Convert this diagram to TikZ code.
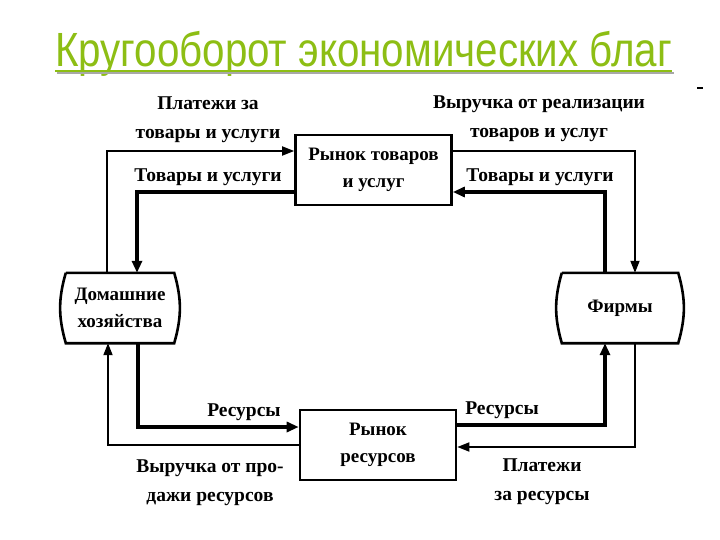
\documentclass[tikz,border=0pt]{standalone}
\usepackage{fontspec}
\usepackage{graphicx}
\setmainfont{Liberation Serif}
\newfontfamily\headfont{Liberation Sans}
\usetikzlibrary{arrows.meta}
\definecolor{TitleGreen}{HTML}{8DBE14}
\definecolor{TitleShade}{HTML}{A8A8A8}

\tikzset{
  market/.style={draw,line width=2.6pt,minimum width=156pt,minimum height=70pt,
    align=center,font=\bfseries\fontsize{19}{27}\selectfont},
  agent/.style={minimum width=108pt,minimum height=70pt,
    align=center,font=\bfseries\fontsize{19}{27}\selectfont},
  flowtxt/.style={align=center,inner sep=0pt,font=\bfseries\fontsize{19.5}{29}\selectfont},
  thinflow/.style={line width=1.8pt,-{Triangle[length=12pt,width=9pt]}},
  thickflow/.style={line width=3.8pt,-{Triangle[length=12pt,width=10pt]}},
  barrel/.style={line width=2.6pt}
}

\begin{document}
\begin{tikzpicture}[x=1pt,y=-1pt]
\fill[white] (0,0) rectangle (720,540);
\useasboundingbox (0,0) rectangle (720,540);
% title with shaded underline
\node[anchor=base west,inner sep=0pt,text=TitleGreen] (title) at (55,67)
  {\headfont\scalebox{0.84}[1]{\fontsize{48}{52}\selectfont Кругооборот экономических благ}};
\draw[TitleShade,line width=2.4pt] ([xshift=2pt,yshift=-6pt]title.base west) -- ([xshift=2pt,yshift=-6pt]title.base east);
\draw[TitleGreen,line width=2.4pt] ([yshift=-4pt]title.base west) -- ([yshift=-4pt]title.base east);
\draw[line width=1.6pt] (697,88) -- (703,88);

% markets and agents
\node[market] (mkt) at (373.5,170) {Рынок товаров\\и услуг};
\node[market] (res) at (378,445) {Рынок\\ресурсов};
\node[agent] (hh) at (120,308) {Домашние\\хозяйства};
\node[agent,minimum width=116pt] (fm) at (620,308) {Фирмы};
\draw[barrel] (hh.north west) -- (hh.north east) to[bend left=16] (hh.south east)
  -- (hh.south west) to[bend left=16] (hh.north west);
\draw[barrel] (fm.north west) -- (fm.north east) to[bend left=16] (fm.south east)
  -- (fm.south west) to[bend left=16] (fm.north west);

% goods market flows
\draw[thinflow] ([xshift=-13pt]hh.north) |- ([yshift=19pt]mkt.west);
\draw[thickflow] ([yshift=-22pt]mkt.west) -| ([xshift=17pt]hh.north);
\draw[thinflow] ([yshift=19pt]mkt.east) -| ([xshift=15pt]fm.north);
\draw[thickflow] ([xshift=-15pt]fm.north) |- ([yshift=-22pt]mkt.east);

% resource market flows
\draw[thickflow] ([xshift=18pt]hh.south) |- ([yshift=18pt]res.west);
\draw[thinflow] (res.west) -| ([xshift=-12pt]hh.south);
\draw[thickflow] ([yshift=20pt]res.east) -| ([xshift=-15pt]fm.south);
\draw[thinflow] ([xshift=15pt]fm.south) |- ([yshift=-2pt]res.east);

% flow labels
\node[flowtxt] (l1) at (208,120) {Платежи за\\товары и услуги};
\node[flowtxt] (l2) at (208,177) {Товары и услуги};
\node[flowtxt] (l3) at (539,119) {Выручка от реализации\\товаров и услуг};
\node[flowtxt] (l4) at (540,177) {Товары и услуги};
\node[flowtxt] (l5) at (244,412) {Ресурсы};
\node[flowtxt] (l6) at (210,483) {Выручка от про-\\дажи ресурсов};
\node[flowtxt] (l7) at (502,410) {Ресурсы};
\node[flowtxt] (l8) at (542,482) {Платежи\\за ресурсы};
\end{tikzpicture}
\end{document}
